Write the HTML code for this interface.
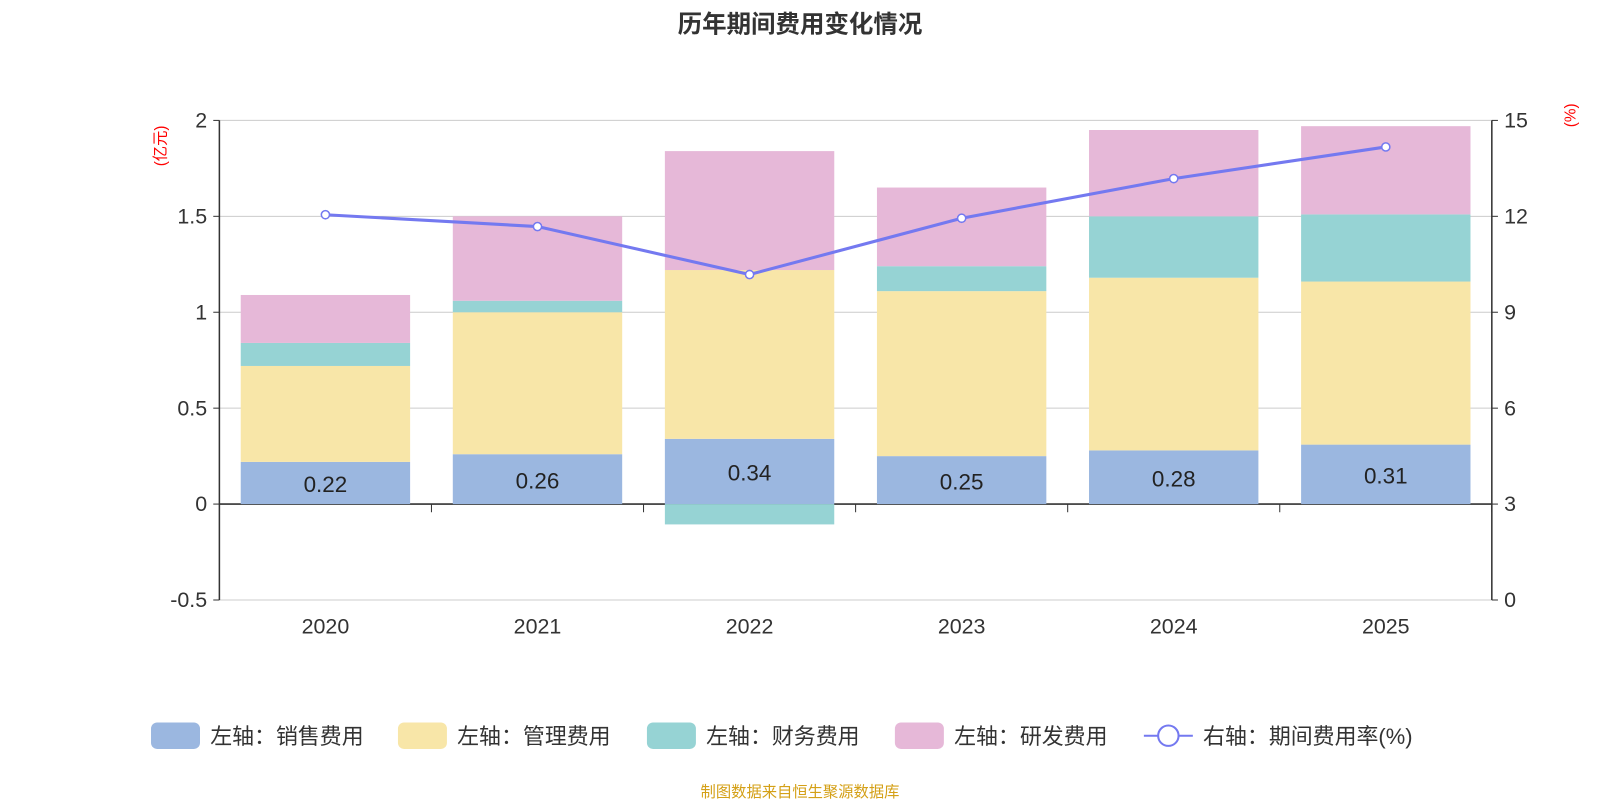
<!DOCTYPE html>
<html><head><meta charset="utf-8"><style>
body{margin:0;background:#fff;width:1600px;height:800px;overflow:hidden;font-family:"Liberation Sans","Noto Sans CJK SC",sans-serif}
</style></head><body>
<svg id="c" width="1600" height="800" xmlns="http://www.w3.org/2000/svg" font-family="'Liberation Sans','Noto Sans CJK SC',sans-serif">
<g transform="scale(1.0204)">
<text x="784" y="32" text-anchor="middle" font-size="24" font-weight="bold" fill="#333">历年期间费用变化情况</text>
<text transform="translate(162,143) rotate(-90)" text-anchor="middle" font-size="15" fill="#f00">(亿元)</text>
<text transform="translate(1544,113) rotate(-90)" text-anchor="middle" font-size="15" fill="#f00">(%)</text>
<g id="grid"></g><g id="bars"></g><g id="axes"></g><g id="line"></g>
<g id="legend" font-size="21.5" fill="#333"></g>
<text x="784" y="781" text-anchor="middle" font-size="15" fill="#d4a017">制图数据来自恒生聚源数据库</text>
</g>
</svg>
<script>
const categories=['2020','2021','2022','2023','2024','2025'];
const sales=[0.22,0.26,0.34,0.25,0.28,0.31];
const mgmt=[0.50,0.74,0.88,0.86,0.90,0.85];
const fin=[0.12,0.06,-0.106,0.13,0.32,0.35];
const rd=[0.25,0.44,0.62,0.41,0.45,0.46];
const rate=[12.05,11.68,10.18,11.94,13.18,14.17];
const leftTicks=[-0.5,0,0.5,1,1.5,2];
const rightTicks=[0,3,6,9,12,15];
const NS='http://www.w3.org/2000/svg';
const x0=215,x1=1462,bw=166;
const yL=v=>494-v*188;
const yR=v=>588-v*470/15;
const step=(x1-x0)/categories.length;
const xc=i=>x0+step*(i+0.5);
function mk(p,t,a){const e=document.createElementNS(NS,t);for(const k in a)e.setAttribute(k,a[k]);document.getElementById(p).appendChild(e);return e;}
leftTicks.forEach((v,i)=>{
 const l=mk('grid','line',{x1:x0,x2:x1,y1:yL(v),y2:yL(v),stroke:v===0?'#333':'#ccc','stroke-width':v===0?1.5:1});
 
 
 const t=mk('axes','text',{x:x0-12,y:yL(v)+7,'text-anchor':'end','font-size':21,fill:'#333'});t.textContent=v;
 
 
 mk('axes','line',{x1:x0-6,x2:x0,y1:yL(v),y2:yL(v),stroke:'#333'});
});
rightTicks.forEach(v=>{
 const t=mk('axes','text',{x:x1+12,y:yR(v)+7,'font-size':21,fill:'#333'});t.textContent=v;
 
 
 mk('axes','line',{x1:x1,x2:x1+6,y1:yR(v),y2:yR(v),stroke:'#333'});
});
mk('axes','line',{x1:x0,x2:x0,y1:yL(2),y2:yL(-0.5),stroke:'#333','stroke-width':1.5});
mk('axes','line',{x1:x1,x2:x1,y1:yR(15),y2:yR(0),stroke:'#333','stroke-width':1.5});
categories.forEach((c,i)=>{
 mk('axes','line',{x1:x0+step*(i+1),x2:x0+step*(i+1),y1:494,y2:502,stroke:'#333'});
 const t=mk('axes','text',{x:xc(i),y:621,'text-anchor':'middle','font-size':21,fill:'#333'});t.textContent=c;
 
 
 let pos=0,neg=0;
 const series=[[sales,'#9bb7e0','sales'],[mgmt,'#f8e6a8','mgmt'],[fin,'#96d3d4','fin'],[rd,'#e6b8d8','rd']];
 series.forEach(([arr,col,nm])=>{
  const v=arr[i];let a,b;
  if(v>=0){a=pos;b=pos+v;pos=b;}else{a=neg+v;b=neg;neg=a;}
  const r=mk('bars','rect',{x:xc(i)-bw/2,y:yL(b),width:bw,height:yL(a)-yL(b),fill:col});
  
  
 });
 const lb=mk('bars','text',{x:xc(i),y:(yL(0)+yL(sales[i]))/2+9,'text-anchor':'middle','font-size':22,fill:'#222'});lb.textContent=sales[i].toFixed(2);
 
 
});
const pl=mk('line','polyline',{points:rate.map((v,i)=>xc(i)+','+yR(v)).join(' '),fill:'none',stroke:'#7479f0','stroke-width':3});


rate.forEach((v,i)=>{const p=mk('line','circle',{cx:xc(i),cy:yR(v),r:4,fill:'#fff',stroke:'#7479f0','stroke-width':1.5});
 
 });
const leg=[['左轴：销售费用','#9bb7e0',148],['左轴：管理费用','#f8e6a8',390],['左轴：财务费用','#96d3d4',634],['左轴：研发费用','#e6b8d8',877]];
leg.forEach(([t,col,x])=>{
 const r=mk('legend','rect',{x:x,y:708,width:48,height:26,rx:6,fill:col});
 
 
 const tx=mk('legend','text',{x:x+58,y:729});tx.textContent=t;
 
 
});
mk('legend','line',{x1:1121,x2:1169,y1:721,y2:721,stroke:'#7479f0','stroke-width':2});
mk('legend','circle',{cx:1145,cy:721,r:10,fill:'#fff',stroke:'#7479f0','stroke-width':2});
const lt=mk('legend','text',{x:1179,y:729});lt.textContent='右轴：期间费用率(%)';


</script>
</body></html>
